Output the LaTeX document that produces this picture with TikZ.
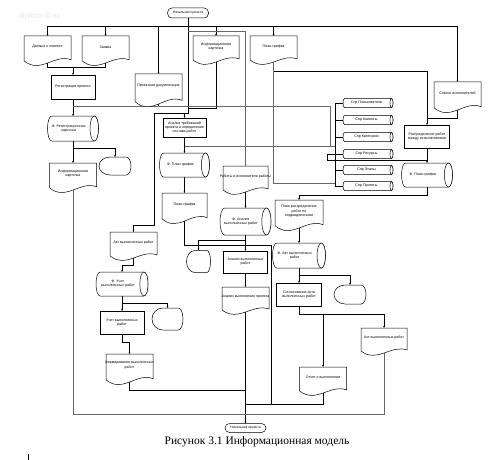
\documentclass[tikz,border=0pt]{standalone}
\usepackage{fontspec}
\setmainfont{Liberation Serif}
\newfontfamily\arialf{Liberation Sans}
\usetikzlibrary{arrows.meta,calc}
\pgfdeclarelayer{background}
\pgfsetlayers{background,main}
\tikzset{
 box/.style={rectangle, draw=none, inner sep=0pt, outer sep=0pt},
 shp/.style={draw=black, line width=0.5pt, fill=white},
 lbl/.style={font=\arialf\fontsize{3.6}{4.2}\selectfont, align=center, inner sep=0pt},
 rbox/.style={rectangle, draw=black, line width=0.5pt, fill=white, inner sep=0pt, outer sep=0pt, align=center, font=\arialf\fontsize{3.6}{4.2}\selectfont},
 term/.style={rectangle, rounded corners=4.5pt, draw=black, line width=0.5pt, fill=white, inner sep=0pt, outer sep=0pt, font=\arialf\fontsize{3.4}{4}\selectfont},
 ln/.style={draw=black, line width=0.5pt},
 gln/.style={draw=black!60, line width=0.6pt},
 arr/.style={-{Stealth[length=2.2pt,width=1.8pt]}},
}
% document shape: name, x, y, w, h, text
\newcommand\mkdoc[6]{%
 \node[box, minimum width=#4pt, minimum height=#5pt] (#1) at (#2,#3) {};
 \draw[shp] (#1.north west) -- (#1.north east) -- ([yshift={0.12*#5pt}]#1.south east)
   .. controls ([xshift={-0.35*#4pt}, yshift={0.35*#5pt}]#1.south east) and ([xshift={0.35*#4pt}, yshift={-0.42*#5pt}]#1.south west) .. ([yshift={0.08*#5pt}]#1.south west) -- cycle;
 \node[lbl] at ([yshift={0.1*#5pt}]#1.center) {#6};}
% cylinder: name, x, y, w, h, text
\newcommand\mkcyl[6]{%
 \node[box, minimum width=#4pt, minimum height=#5pt] (#1) at (#2,#3) {};
 \pgfmathsetmacro\crx{0.17*#5}\pgfmathsetmacro\cry{0.5*#5}%
 \draw[shp] ([xshift=\crx pt]#1.north west) -- ([xshift=-\crx pt]#1.north east)
   arc[start angle=90, end angle=-90, x radius=\crx pt, y radius=\cry pt] -- ([xshift=\crx pt]#1.south west)
   arc[start angle=270, end angle=90, x radius=\crx pt, y radius=\cry pt] -- cycle;
 \draw[shp] ([xshift=-\crx pt]#1.east) ellipse[x radius=\crx pt, y radius=\cry pt];
 \node[lbl] at ([xshift=-\crx pt]#1.center) {#6};}
% display: name, x, y, w, h
\newcommand\mkdisp[5]{%
 \node[box, minimum width=#4pt, minimum height=#5pt] (#1) at (#2,#3) {};
 \pgfmathsetmacro\dla{0.35*#4}\pgfmathsetmacro\dlb{0.15*#4}\pgfmathsetmacro\dry{0.5*#5}%
 \draw[shp] ([xshift=\dla pt]#1.north west) -- ([xshift=-\dlb pt]#1.north east)
   arc[start angle=90, end angle=-90, x radius=\dlb pt, y radius=\dry pt] -- ([xshift=\dla pt]#1.south west)
   arc[start angle=270, end angle=90, x radius=\dla pt, y radius=\dry pt] -- cycle;}
\begin{document}
\begin{tikzpicture}[x=1pt,y=-1pt]
\useasboundingbox (0,0) rectangle (501,460);

% terminators
\node[term, minimum width=41pt, minimum height=10pt] (T1) at (188,13) {Начальник проекта};
\node[term, minimum width=41pt, minimum height=9pt] (T2) at (245.5,428) {Начальник проекта};

% documents
\mkdoc{D1}{47.5}{49.5}{47}{27}{Данные о клиенте}
\mkdoc{D2}{105.5}{49.5}{47}{27}{Заявка}
\mkdoc{D3}{158.5}{89}{47}{30}{Проектная документация}
\mkdoc{D4}{216}{49}{46}{26}{Информационная\\карточка}
\mkdoc{D5}{273.5}{49}{47}{26}{План-график}
\mkdoc{D6}{457.5}{96}{47}{28}{Список исполнителей}
\mkdoc{D7}{73}{176.5}{47}{27}{Информационная\\карточка}
\mkdoc{D8}{184.5}{207}{45}{28}{План-график}
\mkdoc{D9}{245.5}{179}{45}{26}{Работы и исполнители работы}
\mkdoc{D10}{299}{214}{48}{28}{План распределения\\работ по\\подразделениям}
\mkdoc{D11}{133.5}{245}{47}{26}{Акт выполненных работ}
\mkdoc{D12}{129.5}{368}{47}{28}{Формирование выполненных\\работ}
\mkdoc{D13}{245.5}{299.5}{47}{25}{Анализ выполнения проекта}
\mkdoc{D14}{323}{380}{47}{26}{Отчет о выполнении}
\mkdoc{D15}{384}{340.5}{46}{25}{Акт выполненных работ}

% processes
\node[rbox, minimum width=44pt, minimum height=24pt] (R1) at (73,87) {Регистрация проекта};
\node[rbox, minimum width=43pt, minimum height=19pt] (R2) at (184.5,127.5) {Анализ требований\\проекта и определение\\состава работ};
\node[rbox, minimum width=45pt, minimum height=23pt] (R3) at (427,136.5) {Распределение работ\\между исполнителями};
\node[rbox, minimum width=44pt, minimum height=23pt] (R4) at (122,322.5) {Учет выполненных\\работ};
\node[rbox, minimum width=44pt, minimum height=22pt] (R5) at (245.5,262) {Анализ выполненных\\работ};
\node[rbox, minimum width=45pt, minimum height=23pt] (R6) at (299,294.5) {Согласование акта\\выполненных работ};

% stored data
\mkcyl{C1}{73}{128.5}{51}{25}{Ф. Регистрационная\\карточка}
\mkcyl{C2}{184.5}{165}{50}{24}{Ф. План-график}
\mkcyl{C3}{245.5}{221.5}{51}{27}{Ф. Анализ\\выполненных работ}
\mkcyl{C4}{427}{175}{51}{24}{Ф. План-график}
\mkcyl{C5}{122}{284}{52}{24}{Ф. Учет\\выполненных работ}
\mkcyl{C6}{299}{255.5}{53}{25}{Ф. Акт выполненных\\работ}
\mkcyl{P1}{368}{103}{50}{9}{Спр Пользователи}
\mkcyl{P2}{368}{120}{50}{9}{Спр Клиенты}
\mkcyl{P3}{368}{137}{50}{9}{Спр Категории}
\mkcyl{P4}{368}{154}{50}{9}{Спр Ресурсы}
\mkcyl{P5}{368}{170}{50}{9}{Спр Этапы}
\mkcyl{P6}{368}{186}{50}{9}{Спр Проекты}

% displays
\mkdisp{S1}{115}{166}{32}{18}
\mkdisp{S2}{167.5}{319}{31}{22}
\mkdisp{S3}{198.5}{261.5}{24}{22}
\mkdisp{S4}{350}{294.5}{32}{19}

\begin{pgfonlayer}{background}
\draw[ln, arr] (T1.south) -- (188,113) -- (154,113) -- (154,225) -| (D11.north);
\draw[ln, arr] (184.5,113) -- (R2.north);
\draw[ln, line width=0.7pt] (47.5,26) -- (457.5,26);
\draw[ln, arr] (47.5,26) -- (D1.north);
\draw[ln, arr] (105.5,26) -- (D2.north);
\draw[ln, arr] (158.5,26) -- (D3.north);
\draw[ln, arr] (216,26) -- (D4.north);
\draw[ln, arr] (273.5,26) -- (D5.north);
\draw[ln, arr] (457.5,26) -- (D6.north);
\draw[gln, arr] (188,31) -| (D9.north);
\draw[ln] (D4.south) -- (216,108) -- (188,108);
\draw[ln] (D1.south) |- (73,67);
\draw[ln] (D2.south) |- (73,67);
\draw[ln, arr] (73,67) -- (R1.north);
\draw[ln, arr] (R1.south) -- (C1.north);
\draw[gln] (73,106) -- (330,106) -- (330,146);
\draw[ln] (D3.south) -- (158.5,106);
\draw[ln, arr] (C1.south) -- (D7.north);
\draw[ln, arr] (73,148) -| (S1.north);
\draw[ln, arr] (R2.south) -- (C2.north);
\draw[gln] (184.5,146) -- (335,146);
\draw[ln, arr] (C2.south) -- (D8.north);
\draw[ln] (D8.south) -- (184.5,245) -- (271,245) -- (271,404);
\draw[ln, arr] (D9.south) -- (C3.north);
\draw[ln, arr] (C3.south) -- (R5.north);
\draw[ln, arr] (245.5,240) -| (S3.north);
\draw[ln, arr] (R5.south) -- (D13.north);
\draw[ln, arr] (D13.south) -- (T2.north);
\draw[gln] (D5.south) -- (273.5,183) -- (335,183);
\draw[ln, arr] (273.5,71) -| (R3.north);
\draw[ln] (D6.south) |- (427,118);
\draw[ln, arr] (R3.south) -- (C4.north);
\draw[ln] (335,103) -- (335,186);
\foreach \p/\yy in {P1/103,P2/120,P3/137,P4/154,P5/170,P6/186}{\draw[ln] (335,\yy) -- (\p.west);}
\draw[ln] (335,154) -- (327,154) -- (327,160) -- (427,160);
\draw[ln, arr] (C4.south) -- (427,195) -| (D10.north);
\draw[ln, arr] (D10.south) -- (C6.north);
\draw[ln, arr] (C6.south) -- (R6.north);
\draw[ln, arr] (299,275) -| (S4.north);
\draw[ln, line width=0.8pt] (R6.south) -- (299,314) -- (384,314);
\draw[ln, arr] (384,314) -- (D15.north);
\draw[ln, arr] (323,314) -- (D14.north);
\draw[gln] (D15.south) -- (384,414) -- (73,414) -- (D7.south);
\draw[ln] (D14.south) -- (323,404) -- (245.5,404);
\draw[ln] (D12.south) -- (129.5,390) -- (245.5,390);
\draw[ln, arr] (D11.south) -- (133.5,265) -| (C5.north);
\draw[ln, arr] (C5.south) -- (R4.north);
\draw[ln, arr] (122,303) -| (S2.north);
\draw[ln, arr] (R4.south) -- (122,342) -| (D12.north);
\end{pgfonlayer}

\node[anchor=base, font=\fontsize{11.5}{13}\selectfont] (cap) at (257,444) {Рисунок 3.1 Информационная модель};
\node[text=black!10, font=\arialf\fontsize{8}{9}\selectfont] (wm) at (39,16) {diplom-ill.ru};
\coordinate (tk1) at (28,454);
\coordinate (tk2) at (28,460);
\draw[line width=0.9pt] (tk1) -- (tk2);
\end{tikzpicture}
\end{document}
